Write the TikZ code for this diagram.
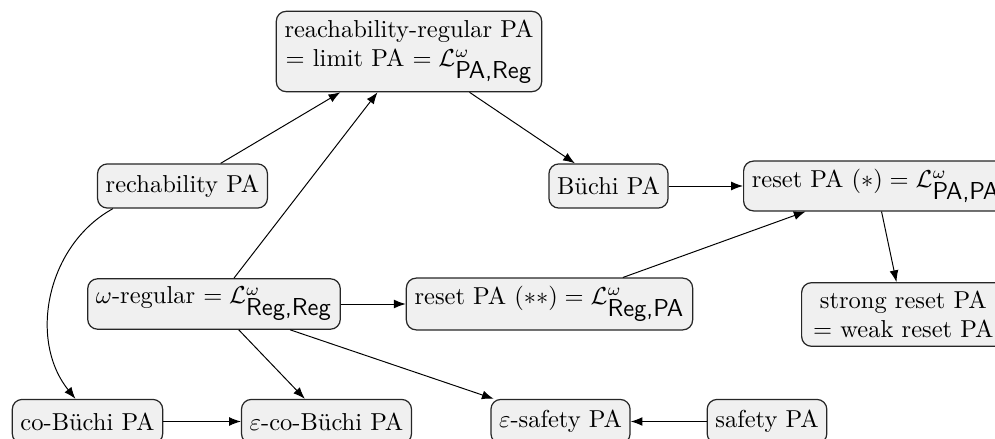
\documentclass[tikz,border=0pt]{standalone}
\usetikzlibrary{arrows.meta}
\begin{document}
\begin{tikzpicture}[x=0.40816pt,y=-0.40816pt,
  box/.style={draw=black!85,rounded corners=4pt,fill=black!6,minimum height=18pt,align=center,line width=0.5pt},
  arr/.style={-{Latex},line width=0.4pt}]
\useasboundingbox (0,0) rectangle (995,439);
\clip (0,0) rectangle (995,439);
\node[box] (top) at (409,51.5) {reachability-regular PA\\ $=$ limit PA $=\mathcal{L}^{\omega}_{\textsf{PA,Reg}}$};
\node[box] (rech) at (182.5,186) {rechability PA};
\node[box] (buchi) at (608.5,186) {Büchi PA};
\node[box,anchor=west] (resetA) at (743,186) {reset PA $(*)=\mathcal{L}^{\omega}_{\textsf{PA,PA}}$};
\node[box] (omega) at (214,304) {$\omega$-regular $=\mathcal{L}^{\omega}_{\textsf{Reg,Reg}}$};
\node[box] (resetB) at (549.5,304) {reset PA $(**)=\mathcal{L}^{\omega}_{\textsf{Reg,PA}}$};
\node[box,anchor=west,minimum width=83pt] (strong) at (801,314.5) {strong reset PA\\ $=$ weak reset PA};
\node[box] (cobuchi) at (87.5,421.5) {co-Büchi PA};
\node[box] (ecob) at (326.5,421.5) {$\varepsilon$-co-Büchi PA};
\node[box] (esafe) at (560.5,421.5) {$\varepsilon$-safety PA};
\node[box] (safety) at (767,421.5) {safety PA};
\draw[arr] (rech) -- (top);
\draw[arr] (omega) -- (top);
\draw[arr] (top) -- (buchi);
\draw[arr] (buchi) -- (resetA);
\draw[arr] (resetB) -- (resetA);
\draw[arr] (resetA) -- (strong);
\draw[arr] (omega) -- (resetB);
\draw[arr] (rech) to[bend right=50] (cobuchi);
\draw[arr] (omega) -- (ecob);
\draw[arr] (omega) -- (esafe);
\draw[arr] (cobuchi) -- (ecob);
\draw[arr] (safety) -- (esafe);
\end{tikzpicture}
\end{document}
